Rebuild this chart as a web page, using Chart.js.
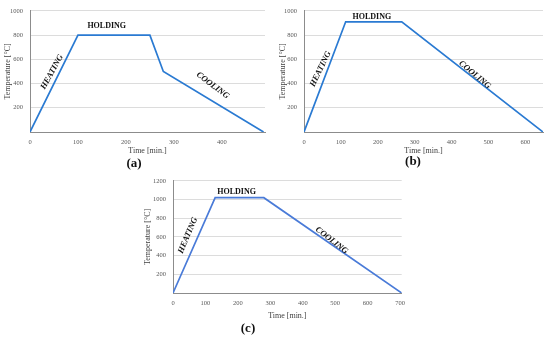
<html>
<head>
<script src="https://cdn.jsdelivr.net/npm/chart.js"></script>
<style>
  body { margin: 0; background: #fff; width: 550px; height: 337px; position: relative; overflow: hidden; }
  canvas { position: absolute; }
  .cap { position: absolute; font: bold 13px "Liberation Serif", "DejaVu Serif", serif; color: #111; transform: translate(-50%, -50%); }
</style>
</head>
<body>
<canvas id="chartA" style="left:0px; top:0px; width:272px; height:158px"></canvas>
<canvas id="chartB" style="left:275px; top:0px; width:275px; height:158px"></canvas>
<canvas id="chartC" style="left:140px; top:170px; width:271px; height:153px"></canvas>
<div class="cap" style="left:134px; top:163px">(a)</div>
<div class="cap" style="left:413px; top:161px">(b)</div>
<div class="cap" style="left:248px; top:328px">(c)</div>

<script>
// (a) time [min.] vs temperature [°C]
const timeA = [0, 100, 250, 278, 487];
const tempA = [0, 800, 800, 500, 0];
const xTicksA = [0, 100, 200, 300, 400];
// (b)
const timeB = [0, 113, 265, 648];
const tempB = [0, 910, 910, 0];
const xTicksB = [0, 100, 200, 300, 400, 500, 600];
// (c)
const timeC = [0, 130, 280, 705];
const tempC = [0, 1020, 1020, 0];
const xTicksC = [0, 100, 200, 300, 400, 500, 600, 700];

const xTitle = 'Time [min.]';
const yTitle = 'Temperature [°C]';

const serif = '"Liberation Serif", "DejaVu Serif", serif';

// phase labels, placed in data units
const notesA = [
  { text: 'HEATING', x: 46, y: 496, rot: -61, italic: true },
  { text: 'HOLDING', x: 160, y: 872, rot: 0, italic: false },
  { text: 'COOLING', x: 381, y: 384, rot: 37, italic: true },
];
const notesB = [
  { text: 'HEATING', x: 45, y: 520, rot: -64, italic: true },
  { text: 'HOLDING', x: 184, y: 952, rot: 0, italic: false },
  { text: 'COOLING', x: 463, y: 472, rot: 40, italic: true },
];
const notesC = [
  { text: 'HEATING', x: 46, y: 616, rot: -67, italic: true },
  { text: 'HOLDING', x: 196, y: 1078, rot: 0, italic: false },
  { text: 'COOLING', x: 489, y: 563, rot: 38, italic: true },
];

const phaseLabels = {
  id: 'phaseLabels',
  afterDatasetsDraw(chart, args, opts) {
    const ctx = chart.ctx;
    const xs = chart.scales.x, ys = chart.scales.y;
    opts.notes.forEach(n => {
      ctx.save();
      ctx.translate(xs.getPixelForValue(n.x), ys.getPixelForValue(n.y));
      ctx.rotate(n.rot * Math.PI / 180);
      ctx.font = (n.italic ? 'italic bold 8.5px ' : 'bold 8px ') + serif;
      ctx.fillStyle = '#111';
      ctx.textAlign = 'center';
      ctx.textBaseline = 'middle';
      ctx.fillText(n.text, 0, 0);
      ctx.restore();
    });
  }
};

function makeChart(id, xs, ys, xTicks, xMax, yMax, yAxisW, xAxisH, pad, color, notes) {
  const pts = xs.map((x, i) => ({ x: x, y: ys[i] }));
  return new Chart(document.getElementById(id), {
    type: 'line',
    data: {
      datasets: [{
        data: pts,
        borderColor: color,
        borderWidth: 1.7,
        pointRadius: 0,
        tension: 0,
        fill: false,
      }]
    },
    options: {
      animation: false,
      responsive: false,
      maintainAspectRatio: false,
      layout: { padding: pad },
      scales: {
        x: {
          type: 'linear',
          min: 0,
          max: xMax,
          afterBuildTicks: s => { s.ticks = xTicks.map(v => ({ value: v })); },
          afterFit: s => { s.height = xAxisH; },
          grid: { display: false, drawTicks: false },
          border: { color: '#8c8c8c', width: 1 },
          ticks: { autoSkip: false, padding: 6, color: '#595959', font: { family: serif, size: 6.5 }, maxRotation: 0 },
          title: { display: true, text: xTitle, color: '#404040', padding: { top: 0, bottom: 2 }, font: { family: serif, size: 8 } },
        },
        y: {
          min: 0,
          max: yMax,
          afterFit: s => { s.width = yAxisW; },
          grid: { color: '#dcdcdc', lineWidth: 1, drawTicks: false },
          border: { color: '#8c8c8c', width: 1 },
          ticks: { stepSize: 200, padding: 7, color: '#595959', font: { family: serif, size: 6.5 },
                   callback: v => v === 0 ? '' : v },
          title: { display: true, text: yTitle, color: '#404040', padding: { top: 3, bottom: 0 }, font: { family: serif, size: 8 } },
        }
      },
      plugins: {
        legend: { display: false },
        tooltip: { enabled: false },
        phaseLabels: { notes: notes },
      }
    },
    plugins: [phaseLabels]
  });
}

makeChart('chartA', timeA, tempA, xTicksA, 490, 1000, 30, 26, { left: 0, top: 7, right: 7, bottom: 0 }, '#2a7ad2', notesA);
makeChart('chartB', timeB, tempB, xTicksB, 648, 1000, 29, 26, { left: 0, top: 7, right: 7, bottom: 0 }, '#2a7ad2', notesB);
makeChart('chartC', timeC, tempC, xTicksC, 705, 1200, 33, 30, { left: 0, top: 8, right: 7, bottom: 0 }, '#4a7bd8', notesC);
</script>
</body>
</html>
